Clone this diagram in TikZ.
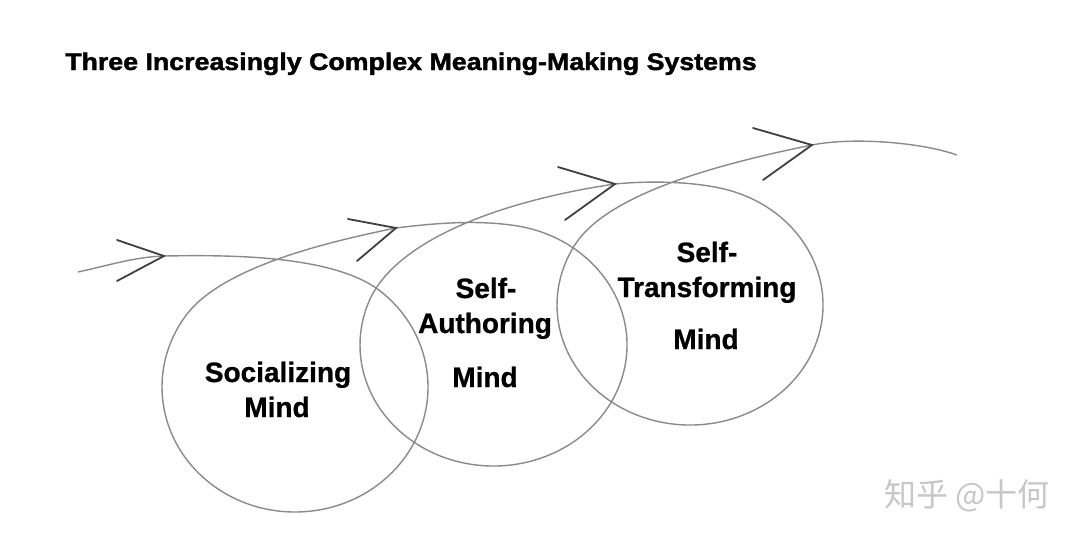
\documentclass[tikz,border=0pt]{standalone}
\usepackage{fontspec}
\usetikzlibrary{calc}
\setmainfont{Liberation Sans}
\newfontfamily\heavyfont[FakeBold=1.6]{Liberation Sans Bold}
\newfontfamily\lblfont[FakeBold=0.8]{Liberation Sans Bold}
\newfontfamily\cjk{Noto Sans CJK SC}
\begin{document}
\begin{tikzpicture}[x=1pt,y=-1pt,
  curve/.style={draw=black!46, line width=1.4pt},
  chev/.style={draw=black!75, line width=1.8pt, line cap=round, line join=miter},
  lbl/.style={font=\lblfont\fontsize{28}{30}\selectfont, anchor=base, inner sep=0pt},
  ttl/.style={font=\heavyfont\fontsize{24}{28}\selectfont, anchor=base west, inner sep=0pt, xscale=1.115},
  wm/.style={font=\cjk\fontsize{32}{34}\selectfont, text=black!22, anchor=west, inner sep=0pt}]
\useasboundingbox (0,0) rectangle (1080,541);
\fill[white] (0,0) rectangle (1080,541);

\node[ttl] (title) at (65,70) {Three Increasingly Complex Meaning-Making Systems};

% arrow tips on the spiral
\coordinate (t1) at (164,256); \coordinate (a1) at (117,240); \coordinate (b1) at (117,281);
\coordinate (t2) at (396,228); \coordinate (a2) at (348,219); \coordinate (b2) at (357,261);
\coordinate (t3) at (615,184); \coordinate (a3) at (558,167); \coordinate (b3) at (565,220);
\coordinate (t4) at (812,145); \coordinate (a4) at (753,128); \coordinate (b4) at (763,180);
\coordinate (start) at (78,272);
\coordinate (end) at (957,155);

% spiral path: three loops
\draw[curve] (start) .. controls (110,265) and (135,257) .. (t1)
  .. controls (224,255) and (333,254) .. ($(295,387)+(-50:133 and 125)$)
  arc[start angle=-50, end angle=215, x radius=133, y radius=125]
  .. controls (222,267) and (327,242) .. (t2)
  .. controls (436,223) and (477.5,219.7) .. ($(493.5,345)+(-80:133.5 and 121)$)
  arc[start angle=-80, end angle=200, x radius=133.5, y radius=121]
  .. controls (394,238.6) and (506,200) .. (t3)
  .. controls (645,181) and (690.4,180.8) .. ($(690,305)+(-75:133 and 120)$)
  arc[start angle=-75, end angle=210, x radius=133, y radius=120]
  .. controls (607,194.5) and (714,165) .. (t4)
  .. controls (852,137) and (920,142) .. (end);

% arrow chevrons
\draw[chev] (a1) -- (t1) -- (b1);
\draw[chev] (a2) -- (t2) -- (b2);
\draw[chev] (a3) -- (t3) -- (b3);
\draw[chev] (a4) -- (t4) -- (b4);

% labels
\node[lbl] (soc1) at (278,382) {Socializing};
\node[lbl] (soc2) at (277,417) {Mind};
\node[lbl] (aut1) at (486,298) {Self-};
\node[lbl] (aut2) at (485,333) {Authoring};
\node[lbl] (aut3) at (485,387) {Mind};
\node[lbl] (tra1) at (707,262) {Self-};
\node[lbl] (tra2) at (707,297) {Transforming};
\node[lbl] (tra3) at (706,349) {Mind};

\node[wm] (mark) at (884,496) {知乎 @十何};
\end{tikzpicture}
\end{document}
